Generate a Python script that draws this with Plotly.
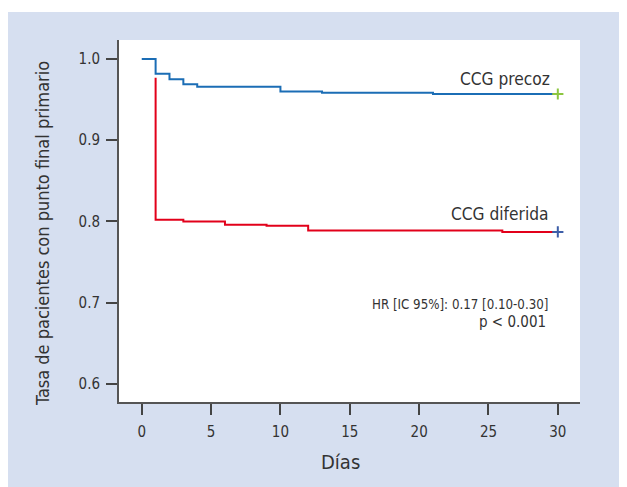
import plotly.graph_objects as go

# Data (Kaplan-Meier style step curves)
precoz_days = [0, 1, 2, 3, 4, 10, 13, 21, 30]
precoz_surv = [1.0, 0.982, 0.975, 0.969, 0.966, 0.960, 0.9585, 0.957, 0.957]

diferida_days = [1, 1, 3, 6, 9, 12, 26, 30]
diferida_surv = [0.977, 0.802, 0.800, 0.796, 0.7945, 0.7887, 0.787, 0.787]

x_ticks = [0, 5, 10, 15, 20, 25, 30]
y_ticks = [0.6, 0.7, 0.8, 0.9, 1.0]
y_ticktext = ["0.6", "0.7", "0.8", "0.9", "1.0"]

FONT = "DejaVu Sans Condensed, Roboto, sans-serif"
TXT = "#333333"
PANEL = "#d6dff0"

fig = go.Figure()
fig.add_trace(go.Scatter(x=precoz_days, y=precoz_surv, mode="lines", line_shape="hv",
                         line=dict(color="#1b6db5", width=2), showlegend=False))
fig.add_trace(go.Scatter(x=diferida_days, y=diferida_surv, mode="lines", line_shape="hv",
                         line=dict(color="#e2001a", width=2), showlegend=False))
# censor marks
fig.add_trace(go.Scatter(x=[precoz_days[-1]], y=[precoz_surv[-1]], mode="markers",
                         marker=dict(symbol="cross-thin", size=8, line=dict(color="#8cc63f", width=2)),
                         showlegend=False))
fig.add_trace(go.Scatter(x=[diferida_days[-1]], y=[diferida_surv[-1]], mode="markers",
                         marker=dict(symbol="cross-thin", size=8, line=dict(color="#3d5ea8", width=2)),
                         showlegend=False))

W, H = 627, 487
OFF = 8  # page body margin
L, R, T, B = 111, 55, 32, 93
pw, ph = W - L - R, H - T - B

def px_x(p):
    return (p - OFF - L) / pw

def px_y(p):
    return (H - B - (p - OFF)) / ph

fig.add_shape(type="rect", xref="paper", yref="paper", layer="below",
              x0=px_x(8), x1=px_x(626), y0=px_y(495), y1=px_y(12),
              fillcolor=PANEL, line=dict(width=0))
fig.add_shape(type="rect", xref="paper", yref="paper", layer="below",
              x0=0, x1=1, y0=0, y1=1, fillcolor="white", line=dict(width=0))

fig.add_annotation(x=29.58, y=0.9757, text="CCG precoz", showarrow=False, xanchor="right",
                   yanchor="middle", font=dict(family=FONT, size=17.2, color=TXT))
fig.add_annotation(x=29.49, y=0.809, text="CCG diferida", showarrow=False, xanchor="right",
                   yanchor="middle", font=dict(family=FONT, size=17.2, color=TXT))
fig.add_annotation(x=29.43, y=0.6972, text="HR [IC 95%]: 0.17 [0.10-0.30]", showarrow=False,
                   xanchor="right", yanchor="middle", font=dict(family=FONT, size=13.2, color=TXT))
fig.add_annotation(x=29.26, y=0.6764, text="p &lt; 0.001", showarrow=False,
                   xanchor="right", yanchor="middle", font=dict(family=FONT, size=15, color=TXT))

fig.add_annotation(xref="paper", yref="paper", x=px_x(42), y=px_y(234),
                   text="Tasa de pacientes con punto final primario",
                   textangle=-90, showarrow=False, xanchor="center", yanchor="middle",
                   font=dict(family=FONT, size=18, color=TXT))
fig.add_annotation(xref="paper", yref="paper", x=px_x(340), y=px_y(462), text="Días",
                   showarrow=False, xanchor="center", yanchor="middle",
                   font=dict(family=FONT, size=20, color=TXT))

fig.update_xaxes(range=[-1.64, 31.6], tickvals=x_ticks, showgrid=False, zeroline=False,
                 showline=True, linecolor="#555555", linewidth=2, ticks="outside", ticklen=11,
                 tickwidth=2, tickcolor="#444444", ticklabelstandoff=4,
                 tickfont=dict(family=FONT, size=15, color=TXT))
fig.update_yaxes(range=[0.5775, 1.0235], tickvals=y_ticks, ticktext=y_ticktext, showgrid=False,
                 zeroline=False, showline=True, linecolor="#555555", linewidth=2, ticks="outside",
                 ticklen=11, tickwidth=2, tickcolor="#444444", ticklabelstandoff=3,
                 tickfont=dict(family=FONT, size=15, color=TXT))

fig.update_layout(width=W, height=H, margin=dict(l=L, r=R, t=T, b=B),
                  paper_bgcolor="white", plot_bgcolor="white")

fig.write_html("out.html")
